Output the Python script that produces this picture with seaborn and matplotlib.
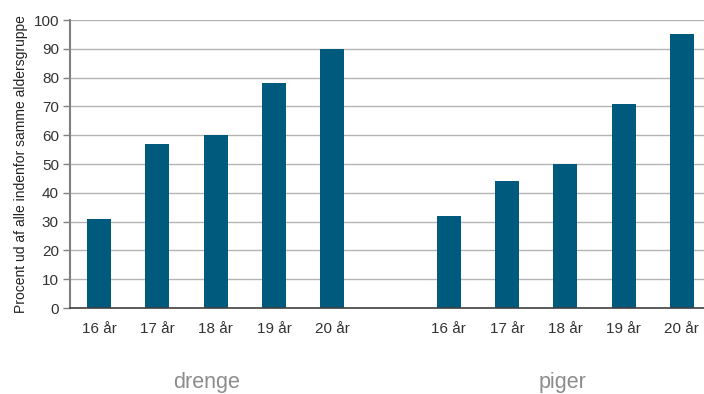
import pandas as pd
import seaborn as sns
import matplotlib.pyplot as plt
from matplotlib.ticker import FixedLocator

# data
ages = ["16 år", "17 år", "18 år", "19 år", "20 år"]
drenge = [31, 57, 60, 78, 90]
piger = [32, 44, 50, 71, 95]
groups = ["drenge", "piger"]

bar_color = "#005a7e"

keys = ["d " + a for a in ages] + ["gap"] + ["p " + a for a in ages]
df = pd.DataFrame({
    "key": ["d " + a for a in ages] + ["p " + a for a in ages],
    "value": drenge + piger,
})

sns.set_style("white")
plt.rcParams["font.family"] = ["Liberation Sans", "DejaVu Sans"]

fig = plt.figure(figsize=(7.04, 3.94), dpi=100)
ax = fig.add_axes([70 / 704, 1 - 308 / 394, 641 / 704, 288 / 394])

sns.barplot(data=df, x="key", y="value", order=keys, color=bar_color,
            width=0.41, saturation=1, linewidth=0, ax=ax)

ax.set_ylim(0, 100)
ax.set_xlim(-0.5, len(keys) - 0.5)
ax.set_yticks(range(0, 101, 10))
ax.yaxis.grid(True, color="#b4b4b4", linewidth=1)
ax.set_axisbelow(True)

# labels at slot centers, tick marks at slot borders
ax.set_xticks(range(len(keys)))
ax.set_xticklabels(ages + [""] + ages)
ax.xaxis.set_minor_locator(FixedLocator([i - 0.5 for i in range(len(keys) + 1)]))
ax.tick_params(axis="x", which="major", length=0, pad=10, labelsize=11, labelcolor="#333333")
ax.tick_params(axis="x", which="minor", length=5, width=1, color="#404040", direction="out")
ax.tick_params(axis="y", length=5, width=1, color="#808080", direction="out",
               labelsize=11, labelcolor="#333333", pad=3)
ax.tick_params(axis="both", bottom=True, left=True)
ax.tick_params(axis="x", which="major", bottom=False)

for s in ["top", "right"]:
    ax.spines[s].set_visible(False)
ax.spines["left"].set_color("#808080")
ax.spines["left"].set_linewidth(1.5)
ax.spines["bottom"].set_color("#404040")
ax.spines["bottom"].set_linewidth(1.2)

ax.set_xlabel("")
ax.set_ylabel("Procent ud af alle indenfor samme aldersgruppe", fontsize=10,
              color="#222222", labelpad=4)

# group labels below the axis
ax.text(1.85, -26, groups[0], ha="center", va="center", fontsize=15.5, color="#8c8c8c")
ax.text(7.95, -26, groups[1], ha="center", va="center", fontsize=15.5, color="#8c8c8c")

fig.savefig("out.png", dpi=100)
